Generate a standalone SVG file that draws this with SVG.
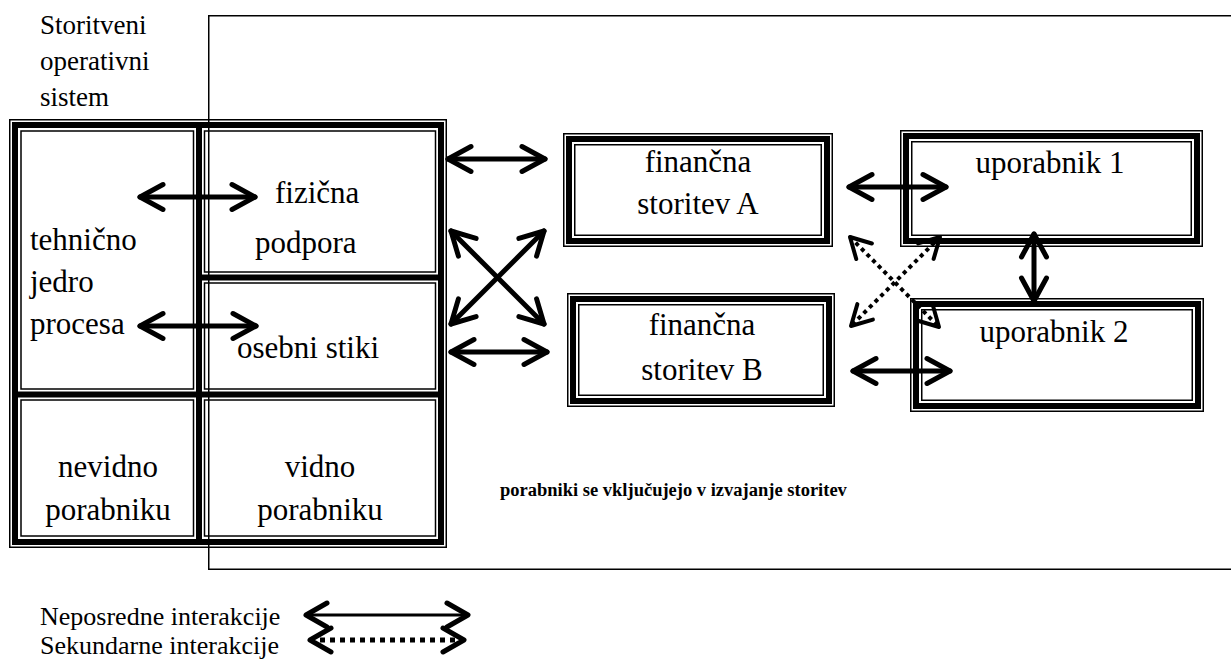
<svg xmlns="http://www.w3.org/2000/svg" width="1231" height="661" viewBox="0 0 1231 661">
<defs>
<style>
text{font-family:"Liberation Serif","Times New Roman",serif;fill:#000}
.c{font-size:31px}
.m{text-anchor:middle}
.thin{fill:none;stroke:#000;stroke-width:1.5}
.thick{fill:none;stroke:#000;stroke-width:6}
.ar{fill:none;stroke:#000;stroke-width:5;stroke-linecap:round;stroke-linejoin:round}
.dot{fill:none;stroke:#000;stroke-width:4;stroke-dasharray:4 4}
</style>
<marker id="h" viewBox="-6 -4 8 8" markerWidth="8" markerHeight="8" refX="0" refY="0" orient="auto-start-reverse" markerUnits="strokeWidth" overflow="visible">
<path d="M-4.6,-2.5 L0,0 L-4.6,2.5" fill="none" stroke="#000" stroke-width="1" stroke-linecap="round" stroke-linejoin="round"/>
</marker>
<marker id="hd" viewBox="-6 -4 8 8" markerWidth="8" markerHeight="8" refX="0" refY="0" orient="auto-start-reverse" markerUnits="userSpaceOnUse" overflow="visible">
<path d="M-20,-11 L0,0 L-20,11" fill="none" stroke="#000" stroke-width="4" stroke-linecap="round" stroke-linejoin="round"/>
</marker>
<marker id="hl" viewBox="-6 -4 8 8" markerWidth="8" markerHeight="8" refX="0" refY="0" orient="auto-start-reverse" markerUnits="userSpaceOnUse" overflow="visible">
<path d="M-21,-12 L0,0 L-21,12" fill="none" stroke="#000" stroke-width="5" stroke-linecap="round" stroke-linejoin="round"/>
</marker>
</defs>
<rect width="1231" height="661" fill="#fff"/>

<g id="title">
<text x="40" y="34" font-size="27">Storitveni</text>
<text x="40" y="70" font-size="27">operativni</text>
<text x="40" y="106" font-size="27">sistem</text>
</g>

<g id="block">
<rect class="thin" x="9.75" y="119.75" width="436.5" height="427.5"/>
<rect class="thick" x="15" y="125" width="426" height="417"/>
<line class="thick" x1="199" y1="125" x2="199" y2="542"/>
<line class="thick" x1="15" y1="394.5" x2="441" y2="394.5"/>
<line class="thick" x1="199" y1="277.5" x2="441" y2="277.5"/>
</g>
<g id="cell-tehnicno">
<rect class="thin" x="21" y="131" width="172.5" height="258"/>
<text class="c" x="30" y="250">tehnično</text>
<text class="c" x="30" y="292">jedro</text>
<text class="c" x="30" y="334">procesa</text>
</g>
<g id="cell-fizicna">
<rect class="thin" x="204.5" y="131" width="231" height="141"/>
<text class="c" x="275" y="203">fizična</text>
<text class="c" x="255" y="253">podpora</text>
</g>
<g id="cell-osebni">
<rect class="thin" x="204.5" y="283" width="231" height="106"/>
<text class="c" x="237" y="358">osebni stiki</text>
</g>
<g id="cell-nevidno">
<rect class="thin" x="21" y="400" width="172.5" height="136"/>
<text class="c m" x="108" y="477">nevidno</text>
<text class="c m" x="108" y="520">porabniku</text>
</g>
<g id="cell-vidno">
<rect class="thin" x="204.5" y="400" width="231" height="136"/>
<text class="c m" x="320" y="477">vidno</text>
<text class="c m" x="320" y="520">porabniku</text>
</g>

<g id="frame">
<path class="thin" d="M1232,15.75 H208.75 V569.25 H1232"/>
</g>

<g id="box-A">
<rect class="thin" x="563.75" y="133.75" width="268.5" height="112.5"/>
<rect class="thick" x="569" y="139" width="258" height="102"/>
<rect class="thin" x="574.75" y="144.75" width="246.5" height="90.5"/>
<text class="c m" x="698" y="172">finančna</text>
<text class="c m" x="698" y="214">storitev A</text>
</g>
<g id="box-B">
<rect class="thin" x="567.75" y="293.75" width="266.5" height="112.5"/>
<rect class="thick" x="573" y="299" width="256" height="102"/>
<rect class="thin" x="578.75" y="304.75" width="244.5" height="90.5"/>
<text class="c m" x="702" y="335">finančna</text>
<text class="c m" x="702" y="380">storitev B</text>
</g>
<g id="box-U1">
<rect class="thin" x="900.75" y="130.75" width="301.5" height="115.5"/>
<rect class="thick" x="906" y="136" width="291" height="105"/>
<rect class="thin" x="911.75" y="141.75" width="279.5" height="93.5"/>
<text class="c m" x="1050" y="173">uporabnik 1</text>
</g>
<g id="box-U2">
<rect class="thin" x="910.75" y="298.75" width="292.5" height="112.5"/>
<rect class="thick" x="916" y="304" width="282" height="102"/>
<rect class="thin" x="921.75" y="309.75" width="270.5" height="90.5"/>
<text class="c m" x="1054" y="342">uporabnik 2</text>
</g>

<g id="note">
<text x="500" y="496" font-size="18.5" font-weight="bold">porabniki se vključujejo v izvajanje storitev</text>
</g>

<g id="connectors">
<line class="ar" x1="140" y1="197" x2="255" y2="197" marker-start="url(#h)" marker-end="url(#h)"/>
<line class="ar" x1="140" y1="326" x2="256" y2="326" marker-start="url(#h)" marker-end="url(#h)"/>
<line class="ar" x1="448" y1="159" x2="545" y2="159" marker-start="url(#h)" marker-end="url(#h)"/>
<line class="ar" x1="451" y1="231" x2="544" y2="324" marker-start="url(#h)" marker-end="url(#h)"/>
<line class="ar" x1="451" y1="324" x2="544" y2="231" marker-start="url(#h)" marker-end="url(#h)"/>
<line class="ar" x1="451" y1="352" x2="547" y2="352" marker-start="url(#h)" marker-end="url(#h)"/>
<line class="ar" x1="849" y1="187" x2="946" y2="187" marker-start="url(#h)" marker-end="url(#h)"/>
<line class="ar" x1="853" y1="371" x2="950" y2="371" marker-start="url(#h)" marker-end="url(#h)"/>
<line class="ar" x1="1034" y1="234" x2="1034" y2="301" marker-start="url(#h)" marker-end="url(#h)"/>
<line class="dot" x1="940" y1="237" x2="851" y2="326" marker-start="url(#hd)" marker-end="url(#hd)"/>
<line class="dot" x1="850" y1="237" x2="939" y2="327" marker-start="url(#hd)" marker-end="url(#hd)"/>
</g>

<g id="legend">
<text x="40" y="625" font-size="26">Neposredne interakcije</text>
<text x="40" y="654" font-size="26">Sekundarne interakcije</text>
<line x1="306" y1="615" x2="468" y2="615" stroke="#000" stroke-width="3" marker-start="url(#hl)" marker-end="url(#hl)"/>
<line x1="310" y1="640" x2="464" y2="640" stroke="#000" stroke-width="5" stroke-dasharray="5 5" marker-start="url(#hl)" marker-end="url(#hl)"/>
</g>
</svg>
